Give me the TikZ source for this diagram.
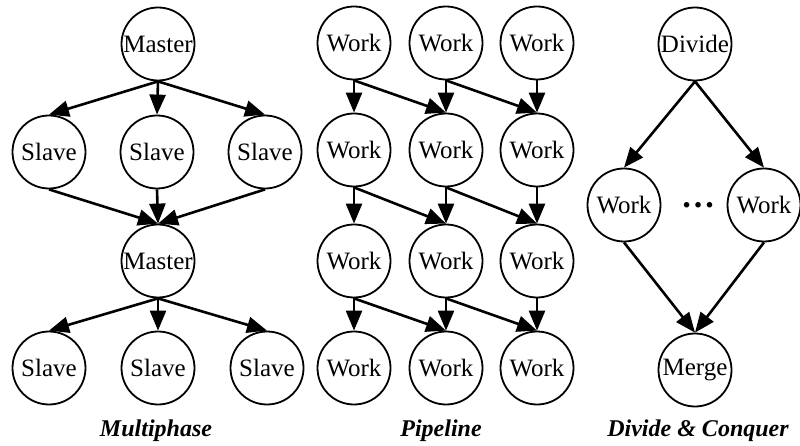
\documentclass[tikz,border=0pt]{standalone}
\usepackage{fontspec}
\setmainfont{Liberation Serif}
\usetikzlibrary{arrows.meta}
\begin{document}
\begin{tikzpicture}[x=1pt,y=-1pt,
  proc/.style={circle,draw,line width=1.8pt,minimum size=73pt,inner sep=0pt,font=\fontsize{25}{28}\selectfont},
  arr/.style={-{Triangle[length=20pt,width=16pt]},line width=2.6pt},
  captxt/.style={font=\fontsize{24}{28}\selectfont\bfseries\itshape}]
\useasboundingbox (0,0) rectangle (800,446);
% Multiphase
\node[proc] (m1) at (158,44) {Master};
\node[proc] (s1) at (49,152) {Slave};
\node[proc] (s2) at (157,152) {Slave};
\node[proc] (s3) at (265,152) {Slave};
\node[proc] (m2) at (158,261) {Master};
\node[proc] (t1) at (49,368) {Slave};
\node[proc] (t2) at (158,368) {Slave};
\node[proc] (t3) at (267,368) {Slave};
\foreach \n in {s1,s2,s3} {\draw[arr] (m1.south) -- (\n.north); \draw[arr] (\n.south) -- (m2.north);}
\foreach \n in {t1,t2,t3} {\draw[arr] (m2.south) -- (\n.north);}
\node[captxt] (c1) at (156,431) {Multiphase};
% Pipeline
\foreach \r/\y in {1/43,2/150,3/261,4/368} {
  \node[proc] (w\r a) at (354,\y) {Work};
  \node[proc] (w\r b) at (446,\y) {Work};
  \node[proc] (w\r c) at (537,\y) {Work};
}
\foreach \r/\s in {1/2,2/3,3/4} {
  \draw[arr] (w\r a.south) -- (w\s a.north);
  \draw[arr] (w\r b.south) -- (w\s b.north);
  \draw[arr] (w\r c.south) -- (w\s c.north);
  \draw[arr] (w\r a.south) -- (w\s b.north);
  \draw[arr] (w\r b.south) -- (w\s c.north);
}
\node[captxt] (c2) at (441,431) {Pipeline};
% Divide & Conquer
\node[proc] (d) at (695,44) {Divide};
\node[proc] (wl) at (624,205) {Work};
\node[proc] (wr) at (764,205) {Work};
\node[proc] (mg) at (695,370) {Merge};
\node[font=\fontsize{34}{36}\selectfont\bfseries] (dots) at (698,205) {…};
\draw[arr] (d.south) -- (wl.north);
\draw[arr] (d.south) -- (wr.north);
\draw[arr] (wl.south) -- (mg.north);
\draw[arr] (wr.south) -- (mg.north);
\node[captxt] (c3) at (698,431) {Divide \& Conquer};
\end{tikzpicture}
\end{document}
